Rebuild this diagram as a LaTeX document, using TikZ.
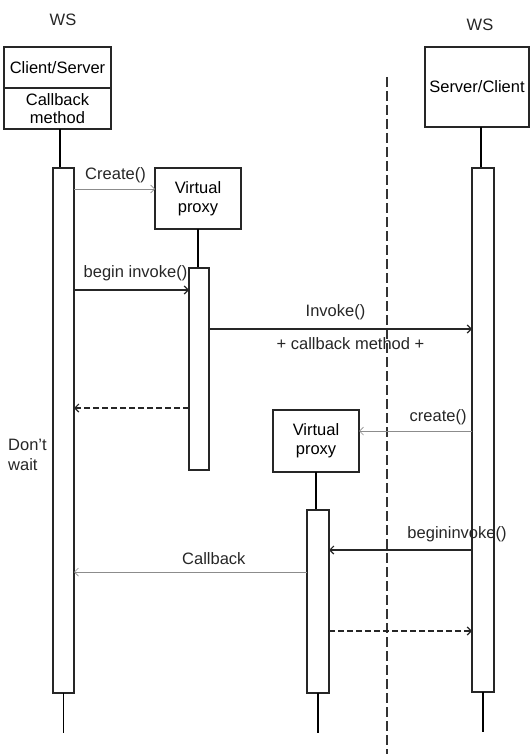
\documentclass[tikz,border=0pt]{standalone}
\usepackage{fontspec}
\setmainfont{Liberation Sans}
\usetikzlibrary{positioning,arrows.meta,calc}
\tikzset{
  objbox/.style={draw=black!85,line width=1.3pt,outer sep=0pt,align=center,inner sep=0pt,font=\fontsize{16.5}{19}\selectfont},
  actbar/.style={draw=black!85,line width=1.3pt,fill=white,outer sep=0pt,inner sep=0pt},
  msg/.style={-{Straight Barb[length=4pt,width=8pt]},line width=1.2pt,draw=black!85},
  msgthin/.style={msg,draw=black!45,line width=0.7pt},
  ret/.style={msg,dash pattern=on 6pt off 3pt},
  lbl/.style={font=\fontsize{16.5}{20}\selectfont,text=black!85,inner sep=1pt},
}
\begin{document}
\begin{tikzpicture}[x=1pt,y=-1pt]
\useasboundingbox (0,0) rectangle (531,754);
% objects
\node[lbl] (ws1) at (63,20) {WS};
\node[lbl] (ws2) at (480,25) {WS};
\node[objbox,minimum width=107,minimum height=41] (cs) at (57.5,67.5) {Client/Server};
\node[objbox,minimum width=107,minimum height=41,anchor=north] (cb) at (cs.south) {Callback\\[-1pt]method};
\node[objbox,minimum width=104,minimum height=80] (sc) at (477,87) {Server/Client};
\node[objbox,minimum width=86,minimum height=61] (vp1) at (198,198.5) {Virtual\\proxy};
\node[objbox,minimum width=86,minimum height=62] (vp2) at (316,441) {Virtual\\proxy};
% separator
\coordinate (sepT) at (387,77);
\coordinate (sepB) at (387,754);
\draw[black!80,line width=1.3pt,dash pattern=on 10pt off 4pt] (sepT) -- (sepB);
% lifelines
\draw[line width=1.3pt] (cb.south -| 60,0) -- (60,168) coordinate (topL);
\draw[line width=1.3pt] (sc.south -| 481,0) -- (481,168) coordinate (topR);
\draw[line width=1.3pt] (vp1.south) -- ++(0,39);
\draw[line width=1.3pt] (vp2.south) -- ++(0,38);
% activation bars
\node[actbar,minimum width=21,minimum height=525] (barL) at (63.5,430.5) {};
\node[actbar,minimum width=22,minimum height=524] (barR) at (483,430) {};
\node[actbar,minimum width=20,minimum height=202] (bar1) at (199,369) {};
\node[actbar,minimum width=22,minimum height=183] (bar2) at (318,601.5) {};
\draw[line width=1.3pt] (barL.south) -- ++(0,40);
\draw[line width=1.3pt] (barR.south) -- ++(0,40);
\draw[line width=1.3pt] (bar2.south) -- ++(0,40);
% messages
\coordinate (m1) at (0,189);
\coordinate (m2) at (0,290);
\coordinate (m3) at (0,329);
\coordinate (m4) at (0,408);
\coordinate (m5) at (0,431);
\coordinate (m6) at (0,550);
\coordinate (m7) at (0,572);
\coordinate (m8) at (0,631);
\draw[msgthin] (barL.east |- m1) -- node[lbl,above=5pt,xshift=1pt] {Create()} (vp1.west |- m1);
\draw[msg] (barL.east |- m2) -- node[lbl,above=7pt,xshift=4pt] {begin invoke()} (bar1.west |- m2);
\draw[msg] (bar1.east |- m3) -- node[lbl,above=7pt,xshift=-5pt] (inv) {Invoke()}
  node[lbl,below=7pt,xshift=10pt] {+ callback method +} (barR.west |- m3);
\draw[ret] (bar1.west |- m4) -- (barL.east |- m4);
\draw[msgthin] (barR.west |- m5) -- node[lbl,above=5pt,pos=0.3] {create()} (vp2.east |- m5);
\draw[msg] (barR.west |- m6) -- (bar2.east |- m6);
\node[lbl,above=7pt] (bi) at ($(barR.west |- m6)+(-15,0)$) {begininvoke()};
\draw[msgthin] (bar2.west |- m7) -- node[lbl,above=6pt,pos=0.4] {Callback} (barL.east |- m7);
\draw[ret] (bar2.east |- m8) -- (barR.west |- m8);
\node[lbl,align=left,anchor=west] (dw) at (7,455) {Don't\\wait};
\end{tikzpicture}
\end{document}
